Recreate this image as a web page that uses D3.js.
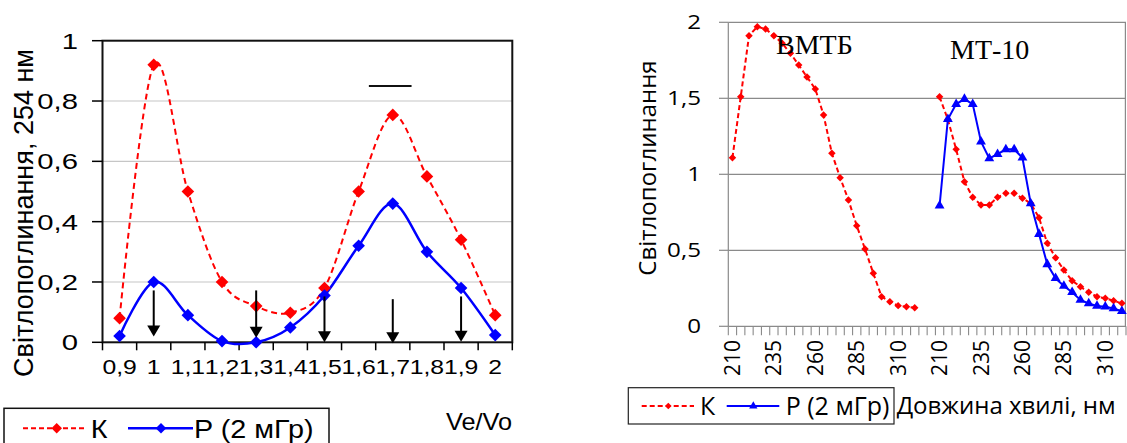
<!DOCTYPE html>
<html>
<head>
<meta charset="utf-8">
<style>
  body { margin: 0; background: #fff; }
  svg { display: block; }
</style>
<title>Світлопоглинання</title>
</head>
<body>
<script src="https://cdn.jsdelivr.net/npm/d3@7"></script>
<script>
// ---------- left chart: elution profile at 254 nm
var veVo = ["0,9", "1", "1,1", "1,2", "1,3", "1,4", "1,5", "1,6", "1,7", "1,8", "1,9", "2"];
var leftK = [0.08, 0.92, 0.50, 0.20, 0.12, 0.098, 0.18, 0.50, 0.754, 0.55, 0.34, 0.09];
var leftP = [0.021, 0.20, 0.09, 0.004, 0, 0.049, 0.155, 0.32, 0.46, 0.30, 0.18, 0.024];
var leftYTicks = [0, 0.2, 0.4, 0.6, 0.8, 1];
// arrows under the peaks (category, value at tail, value at tip)
var arrowCats = ["1", "1,3", "1,5", "1,7", "1,9"];
var arrowFrom = [0.172, 0.172, 0.152, 0.143, 0.152];
var arrowTo = [0.019, 0.015, 0, -0.003, 0.002];
// short bar above the second peak (band index units, value)
var barFrom = 7.8, barTo = 9.05, barValue = 0.85;

// ---------- right chart: absorption spectra
var wlBmtb = [210, 215, 220, 225, 230, 235, 240, 245, 250, 255, 260, 265, 270, 275, 280, 285, 290, 295, 300, 305, 310, 315, 320];
var wlMt10 = [210, 215, 220, 225, 230, 235, 240, 245, 250, 255, 260, 265, 270, 275, 280, 285, 290, 295, 300, 305, 310, 315, 320];
var bmtbK = [1.109, 1.51, 1.912, 1.971, 1.956, 1.912, 1.862, 1.796, 1.719, 1.64, 1.561, 1.39, 1.138, 0.978, 0.831, 0.662, 0.509, 0.349, 0.195, 0.162, 0.136, 0.129, 0.122];
var mt10K = [1.51, 1.36, 1.164, 0.951, 0.849, 0.798, 0.798, 0.849, 0.875, 0.875, 0.842, 0.809, 0.714, 0.546, 0.451, 0.370, 0.30, 0.26, 0.224, 0.195, 0.184, 0.168, 0.151];
var mt10P = [0.793, 1.362, 1.462, 1.495, 1.462, 1.214, 1.105, 1.133, 1.164, 1.164, 1.109, 0.809, 0.607, 0.408, 0.316, 0.265, 0.224, 0.173, 0.151, 0.134, 0.129, 0.118, 0.10];
var gapCount = 2;   // empty rows between the two samples
var rightYTicks = [0, 0.5, 1, 1.5, 2];

var W = 1127, H = 443;
var svg = d3.select("body").append("svg").attr("width", W).attr("height", H);

var fmt = function (v) { return String(v).replace(".", ","); };

// text that is a bit wider than the font (the figure was stretched sideways)
function label(g, x, y, txt, opts) {
  return g.append("text")
    .attr("transform", "translate(" + x + "," + y + ") scale(" + (opts.sx || 1) + ",1)")
    .attr("text-anchor", opts.anchor || "start")
    .attr("font-family", opts.font)
    .attr("font-size", opts.size)
    .attr("fill", "#000")
    .text(txt);
}

function diamond(size) {
  return d3.symbol().type(d3.symbolSquare).size(size)();
}

// =================== LEFT CHART ===================
var LF = "'Liberation Sans', Arial, sans-serif";
var left = svg.append("g");
var lx = d3.scaleBand().domain(veVo).range([102.5, 512.3]);
var lxi = d3.scaleLinear().domain([0, veVo.length]).range(lx.range());
var ly = d3.scaleLinear().domain([0, 1]).range([342.3, 40.7]);

// grid
left.selectAll("line.grid").data(leftYTicks.slice(1, -1)).enter().append("line")
  .attr("x1", lx.range()[0]).attr("x2", lx.range()[1])
  .attr("y1", d => ly(d)).attr("y2", d => ly(d))
  .attr("stroke", "#c6c6c6").attr("stroke-width", 1.2);

// frame
left.append("rect")
  .attr("x", lx.range()[0]).attr("y", ly(1))
  .attr("width", lx.range()[1] - lx.range()[0]).attr("height", ly(0) - ly(1))
  .attr("fill", "none").attr("stroke", "#111").attr("stroke-width", 2);

// y ticks + labels
left.selectAll("line.yt").data(leftYTicks).enter().append("line")
  .attr("x1", 92).attr("x2", lx.range()[0])
  .attr("y1", d => ly(d)).attr("y2", d => ly(d))
  .attr("stroke", "#000").attr("stroke-width", 1.5);
leftYTicks.forEach(function (t) {
  label(left, 78, ly(t) + 8, fmt(t), { font: LF, size: 22, sx: 1.33, anchor: "end" });
});

// x ticks + labels
var lxb = d3.range(veVo.length + 1);
left.selectAll("line.xt").data(lxb).enter().append("line")
  .attr("x1", d => lxi(d)).attr("x2", d => lxi(d))
  .attr("y1", ly(0)).attr("y2", ly(0) + 8)
  .attr("stroke", "#000").attr("stroke-width", 1.5);
veVo.forEach(function (c) {
  label(left, lx(c) + lx.bandwidth() / 2, 374, c, { font: LF, size: 19.5, sx: 1.27, anchor: "middle" });
});

// axis title
left.append("text")
  .attr("transform", "translate(33,213) rotate(-90)")
  .attr("text-anchor", "middle")
  .attr("font-family", LF).attr("font-size", 27)
  .text("Світлопоглинання, 254 нм");

label(left, 512, 430, "Ve/Vo", { font: LF, size: 23, sx: 1.1, anchor: "end" });

// series
var lcx = function (i) { return lx(veVo[i]) + lx.bandwidth() / 2; };
var smooth = d3.line().x((d, i) => lcx(i)).y(d => ly(d)).curve(d3.curveCardinal.tension(0));

left.append("path").attr("d", smooth(leftK))
  .attr("fill", "none").attr("stroke", "#ff0000").attr("stroke-width", 2)
  .attr("stroke-dasharray", "6,4");
left.append("path").attr("d", smooth(leftP))
  .attr("fill", "none").attr("stroke", "#0000ff").attr("stroke-width", 2.5);

left.selectAll("path.mk").data(leftK).enter().append("path")
  .attr("d", diamond(80))
  .attr("transform", (d, i) => "translate(" + lcx(i) + "," + ly(d) + ") rotate(45)")
  .attr("fill", "#ff0000");
left.selectAll("path.mp").data(leftP).enter().append("path")
  .attr("d", diamond(80))
  .attr("transform", (d, i) => "translate(" + lcx(i) + "," + ly(d) + ") rotate(45)")
  .attr("fill", "#0000ff");

// arrows
arrowCats.forEach(function (c, i) {
  var x = lx(c) + lx.bandwidth() / 2;
  var y0 = ly(arrowFrom[i]), y1 = ly(arrowTo[i]);
  left.append("line").attr("x1", x).attr("x2", x).attr("y1", y0).attr("y2", y1 - 8)
    .attr("stroke", "#000").attr("stroke-width", 2);
  left.append("path")
    .attr("d", "M" + (x - 6.5) + "," + (y1 - 11) + "L" + (x + 6.5) + "," + (y1 - 11) + "L" + x + "," + y1 + "Z")
    .attr("fill", "#000");
});

// bar above second peak
left.append("line")
  .attr("x1", lxi(barFrom)).attr("x2", lxi(barTo))
  .attr("y1", ly(barValue)).attr("y2", ly(barValue))
  .attr("stroke", "#111").attr("stroke-width", 2);

// legend
var lg = left.append("g");
lg.append("rect").attr("x", 4).attr("y", 408.3).attr("width", 325).attr("height", 60)
  .attr("fill", "#fff").attr("stroke", "#111").attr("stroke-width", 1.5);
lg.append("line").attr("x1", 23).attr("x2", 86).attr("y1", 428.3).attr("y2", 428.3)
  .attr("stroke", "#ff0000").attr("stroke-width", 2).attr("stroke-dasharray", "5,3");
lg.append("path").attr("d", diamond(56)).attr("transform", "translate(56.7,428.3) rotate(45)").attr("fill", "#ff0000");
label(lg, 90.7, 438.3, "К", { font: LF, size: 25, sx: 1.15 });
lg.append("line").attr("x1", 128).attr("x2", 193).attr("y1", 428.3).attr("y2", 428.3)
  .attr("stroke", "#0000ff").attr("stroke-width", 2.5);
lg.append("path").attr("d", diamond(56)).attr("transform", "translate(161,428.3) rotate(45)").attr("fill", "#0000ff");
label(lg, 194, 438.3, "P (2 мГр)", { font: LF, size: 25, sx: 1.15 });

// =================== RIGHT CHART ===================
var RF = "'Open Sans', 'Noto Sans', sans-serif";
var right = svg.append("g");
var nCat = wlBmtb.length + gapCount + wlMt10.length;
var rx = d3.scaleBand().domain(d3.range(nCat)).range([728.3, 1126]);
var rxi = d3.scaleLinear().domain([0, nCat]).range(rx.range());
var ry = d3.scaleLinear().domain([0, 2]).range([326.3, 22.3]);
var rcx = function (i) { return rx(i) + rx.bandwidth() / 2; };
var catLabels = wlBmtb.map(String)
  .concat(d3.range(gapCount).map(() => ""))
  .concat(wlMt10.map(String));
var mtOff = wlBmtb.length + gapCount;

// grid
right.selectAll("line.grid").data(rightYTicks.slice(1)).enter().append("line")
  .attr("x1", rx.range()[0]).attr("x2", rx.range()[1])
  .attr("y1", d => ry(d)).attr("y2", d => ry(d))
  .attr("stroke", "#8a8a8a").attr("stroke-width", 1.2);
// axes lines + right border
right.append("line").attr("x1", rx.range()[0]).attr("x2", rx.range()[0])
  .attr("y1", ry(2)).attr("y2", ry(0)).attr("stroke", "#8a8a8a").attr("stroke-width", 1.2);
right.append("line").attr("x1", rx.range()[1] - 0.6).attr("x2", rx.range()[1] - 0.6)
  .attr("y1", ry(2)).attr("y2", ry(0)).attr("stroke", "#8a8a8a").attr("stroke-width", 1.2);
right.append("line").attr("x1", rx.range()[0]).attr("x2", rx.range()[1])
  .attr("y1", ry(0)).attr("y2", ry(0)).attr("stroke", "#8a8a8a").attr("stroke-width", 1.2);

// y ticks + labels
right.selectAll("line.yt").data(rightYTicks).enter().append("line")
  .attr("x1", 719).attr("x2", rx.range()[0])
  .attr("y1", d => ry(d)).attr("y2", d => ry(d))
  .attr("stroke", "#8a8a8a").attr("stroke-width", 1.2);
rightYTicks.forEach(function (t) {
  label(right, 701, ry(t) + 7, fmt(t), { font: RF, size: 19.5, sx: 1.24, anchor: "end" });
});

// x ticks + rotated labels
right.selectAll("line.xt").data(d3.range(nCat + 1)).enter().append("line")
  .attr("x1", d => rxi(d)).attr("x2", d => rxi(d))
  .attr("y1", ry(0)).attr("y2", ry(0) + 9)
  .attr("stroke", "#8a8a8a").attr("stroke-width", 1.1);
catLabels.forEach(function (c, i) {
  if (c === "" || (i < mtOff ? i : i - mtOff) % 5 !== 0) return;
  right.append("text")
    .attr("transform", "translate(" + (rcx(i) + 7.5) + ",340) rotate(-90)")
    .attr("text-anchor", "end")
    .attr("font-family", RF).attr("font-size", 21)
    .text(c);
});

// axis title
right.append("text")
  .attr("transform", "translate(656,168) rotate(-90)")
  .attr("text-anchor", "middle")
  .attr("font-family", RF).attr("font-size", 24)
  .text("Світлопоглинання");

// series
var lineR = d3.line().x(d => rcx(d.i)).y(d => ry(d.v));
var sBmtbK = bmtbK.map((v, i) => ({ i: i, v: v }));
var sMtK = mt10K.map((v, i) => ({ i: i + mtOff, v: v }));
var sMtP = mt10P.map((v, i) => ({ i: i + mtOff, v: v }));

[sBmtbK, sMtK].forEach(function (s) {
  right.append("path").attr("d", lineR(s))
    .attr("fill", "none").attr("stroke", "#ff0000").attr("stroke-width", 2)
    .attr("stroke-dasharray", "5,3");
  right.selectAll(null).data(s).enter().append("path")
    .attr("d", diamond(28))
    .attr("transform", d => "translate(" + rcx(d.i) + "," + ry(d.v) + ") rotate(45)")
    .attr("fill", "#ff0000");
});
right.append("path").attr("d", lineR(sMtP))
  .attr("fill", "none").attr("stroke", "#0000ff").attr("stroke-width", 2);
right.selectAll(null).data(sMtP).enter().append("path")
  .attr("d", d3.symbol().type(d3.symbolTriangle).size(42)())
  .attr("transform", d => "translate(" + rcx(d.i) + "," + ry(d.v) + ")")
  .attr("fill", "#0000ff");

// sample names
right.append("text").attr("x", 776).attr("y", 54)
  .attr("font-family", "'Liberation Serif', 'Times New Roman', serif").attr("font-size", 28)
  .text("ВМТБ");
right.append("text").attr("x", 950).attr("y", 59)
  .attr("font-family", "'Liberation Serif', 'Times New Roman', serif").attr("font-size", 28)
  .text("МТ-10");

// legend
var rg = right.append("g");
rg.append("rect").attr("x", 628.3).attr("y", 387.7).attr("width", 265.7).attr("height", 36.3)
  .attr("fill", "#fff").attr("stroke", "#222").attr("stroke-width", 1.2);
rg.append("line").attr("x1", 641.7).attr("x2", 694).attr("y1", 406).attr("y2", 406)
  .attr("stroke", "#ff0000").attr("stroke-width", 2).attr("stroke-dasharray", "5,3");
rg.append("path").attr("d", diamond(22)).attr("transform", "translate(668.3,406) rotate(45)").attr("fill", "#ff0000");
label(rg, 700, 415, "К", { font: RF, size: 25 });
rg.append("line").attr("x1", 726.7).attr("x2", 779.3).attr("y1", 406).attr("y2", 406)
  .attr("stroke", "#0000ff").attr("stroke-width", 2);
rg.append("path").attr("d", d3.symbol().type(d3.symbolTriangle).size(30)())
  .attr("transform", "translate(753.3,406)").attr("fill", "#0000ff");
label(rg, 785.7, 415, "P (2 мГр)", { font: RF, size: 25 });
label(right, 896.7, 414, "Довжина хвилі, нм", { font: RF, size: 24 });
</script>
</body>
</html>
